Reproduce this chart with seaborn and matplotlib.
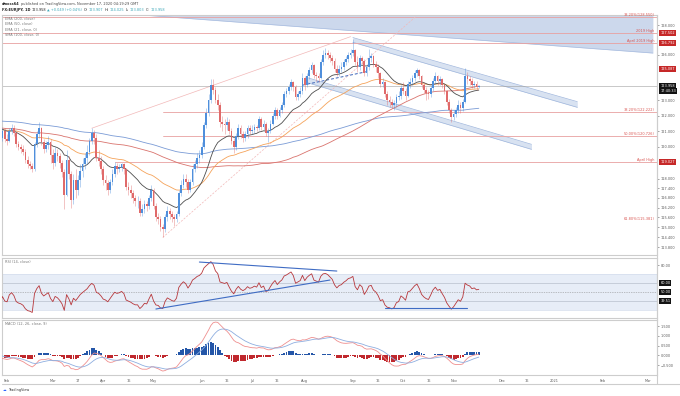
import numpy as np
import pandas as pd
import matplotlib
matplotlib.use("Agg")
import matplotlib.pyplot as plt
import matplotlib.transforms as mtransforms
from matplotlib.lines import Line2D
from matplotlib.ticker import FixedLocator, FuncFormatter, NullLocator
import seaborn as sns

# EUR/JPY daily closes Dec 2 2019 - Jan 28 2020, only used to warm up the indicators
warmup_close = [
    120.6, 120.1, 120.4, 120.5, 120.1, 120.0, 120.3, 120.9, 121.5, 121.3, 122.0,
    122.0, 121.7, 121.7, 121.2, 121.3, 121.5, 121.4, 121.3, 122.0, 122.1, 121.8,
    121.8, 121.6, 120.9, 121.5, 120.8, 120.9, 121.0, 121.2, 121.5, 121.5, 121.6,
    122.1, 122.0, 122.0, 121.9, 121.5, 121.0, 120.7, 120.0, 120.3,
]
ema200_seed = 121.9

# EUR/JPY daily candles, Jan 29 - Nov 17 2020 (open = previous close)
close = [
    120.6, 121.0, 120.5,
    120.4, 121.0, 121.2, 120.9, 120.2, 120.0, 119.9, 119.7, 119.2, 118.9, 118.8, 118.6, 120.2, 120.8, 121.2, 120.3, 119.9, 120.1, 120.3, 119.5,
    119.0, 119.6, 119.4, 119.0, 118.4, 117.0, 119.2, 118.3, 116.7, 117.9, 117.3, 117.9, 118.5, 118.9, 119.3, 119.7, 120.4, 120.9, 120.6, 119.3, 119.1, 118.6,
    117.9, 117.7, 117.3, 117.8, 118.3, 118.8, 118.6, 118.7, 118.9, 118.6, 117.5, 117.3, 117.1, 116.8, 116.6, 116.6, 115.9, 116.1, 116.4, 116.3, 116.8, 117.3,
    116.3, 115.6, 115.5, 115.0, 114.9, 115.6, 116.0, 115.8, 115.6, 115.5, 115.8, 117.1, 117.6, 118.0, 117.8, 117.3, 117.8, 118.6, 118.9, 119.3, 119.5,
    120.0, 121.4, 122.2, 123.0, 124.0, 123.7, 123.0, 122.7, 121.6, 121.5, 121.4, 121.6, 121.0, 120.4, 120.0, 120.7, 121.2, 120.8, 120.6, 120.8, 121.2, 121.0,
    121.1, 121.3, 121.2, 121.8, 121.3, 121.5, 120.9, 121.0, 121.5, 122.0, 122.4, 122.0, 122.4, 122.7, 123.4, 123.6, 123.9, 124.2, 123.9, 123.2, 123.4, 123.6, 124.5,
    124.0, 124.6, 125.0, 125.3, 124.7, 124.6, 124.5, 125.5, 126.0, 126.1, 126.0, 125.8, 125.6, 125.1, 124.8, 125.1, 125.2, 125.5, 125.7, 126.0, 126.1,
    126.3, 125.5, 125.2, 125.8, 125.6, 124.8, 125.2, 125.8, 125.9, 125.4, 125.2, 124.8, 124.1, 124.2, 123.4, 123.0, 122.9, 122.7, 122.8, 123.2, 123.3, 123.8,
    123.6, 123.3, 124.1, 124.2, 124.5, 124.8, 125.0, 124.6, 124.0, 123.7, 123.5, 123.4, 123.8, 124.3, 124.6, 124.3, 124.4, 124.0, 123.6, 122.9, 122.4, 121.9,
    122.1, 122.4, 122.7, 122.5, 122.9, 124.6, 124.4, 124.3, 124.0, 124.1, 123.9, 123.958,
]
high = [
    120.8, 121.2, 121.2,
    120.8, 121.2, 121.5, 121.4, 121.0, 120.4, 120.2, 120.1, 119.9, 119.4, 119.1, 119.0, 120.3, 121.0, 121.6, 121.3, 120.5, 120.4, 120.7, 120.5,
    119.9, 120.0, 119.9, 119.6, 119.2, 118.6, 119.8, 119.4, 118.5, 118.3, 118.6, 118.2, 118.9, 119.3, 119.6, 120.1, 120.6, 121.2, 121.1, 120.8, 119.8, 119.4,
    118.8, 118.2, 117.9, 118.0, 118.6, 119.03, 119.0, 118.9, 119.0, 119.0, 118.7, 117.8, 117.6, 117.3, 117.0, 116.9, 116.8, 116.4, 116.7, 116.6, 117.0, 117.6,
    117.4, 116.5, 115.9, 115.7, 115.2, 115.8, 116.3, 116.2, 116.0, 115.8, 116.0, 117.3, 117.9, 118.3, 118.3, 118.0, 118.0, 118.9, 119.2, 119.6, 119.8,
    120.3, 121.6, 122.5, 123.4, 124.4, 124.43, 123.9, 123.4, 122.9, 122.0, 121.8, 121.9, 121.8, 121.2, 120.6, 120.9, 121.5, 121.4, 121.0, 121.0, 121.4, 121.4,
    121.4, 121.5, 121.4, 122.0, 121.9, 121.7, 121.6, 121.2, 121.7, 122.2, 122.6, 122.5, 122.6, 122.9, 123.6, 123.8, 124.1, 124.4, 124.3, 124.0, 123.6, 123.9, 124.8,
    124.6, 124.8, 125.2, 125.5, 125.4, 124.9, 124.8, 125.7, 126.3, 126.5, 126.3, 126.2, 126.0, 125.8, 125.3, 125.3, 125.5, 125.7, 125.9, 126.2, 126.4,
    127.07, 126.4, 125.9, 126.0, 125.9, 125.7, 125.4, 126.4, 126.1, 126.0, 125.6, 125.4, 124.9, 124.5, 124.3, 123.6, 123.3, 123.1, 123.0, 123.4, 123.6, 124.0,
    124.2, 123.8, 124.3, 124.5, 124.7, 125.0, 125.13, 125.1, 124.7, 124.2, 123.9, 123.7, 124.0, 124.5, 124.9, 124.7, 124.6, 124.5, 124.1, 123.7, 123.1, 122.5,
    122.4, 122.6, 123.0, 122.9, 123.1, 125.13, 124.9, 124.6, 124.5, 124.3, 124.3, 124.025,
]
low = [
    120.1, 120.4, 120.3,
    120.1, 120.3, 120.8, 120.7, 120.0, 119.8, 119.6, 119.5, 119.0, 118.7, 118.6, 118.4, 118.5, 120.0, 120.6, 120.1, 119.6, 119.7, 119.9, 119.0,
    118.6, 118.8, 119.1, 118.7, 118.1, 116.1, 116.9, 118.0, 116.2, 116.4, 116.8, 117.0, 117.5, 118.1, 118.6, 118.9, 119.5, 120.2, 120.2, 119.1, 118.8, 118.3,
    117.6, 117.3, 117.0, 117.1, 117.6, 118.1, 118.3, 118.4, 118.5, 118.3, 117.3, 117.0, 116.8, 116.5, 116.3, 116.2, 115.7, 115.7, 115.9, 116.0, 116.1, 116.6,
    116.1, 115.4, 115.2, 114.8, 114.38, 114.7, 115.4, 115.5, 115.3, 115.1, 115.3, 115.7, 116.9, 117.4, 117.5, 117.1, 117.2, 117.6, 118.4, 118.7, 119.0,
    119.3, 119.9, 121.2, 122.0, 122.8, 123.4, 122.8, 122.4, 121.3, 121.0, 120.8, 121.1, 120.8, 120.2, 119.6, 119.8, 120.5, 120.6, 120.3, 120.4, 120.6, 120.8,
    120.8, 120.9, 121.0, 121.1, 121.1, 121.1, 120.7, 120.3, 120.9, 121.4, 121.8, 121.8, 121.9, 122.2, 122.6, 123.2, 123.4, 123.7, 123.6, 123.0, 123.0, 123.2, 123.4,
    123.7, 123.9, 124.4, 124.8, 124.5, 124.3, 124.2, 124.4, 125.3, 125.8, 125.7, 125.5, 125.3, 124.9, 124.6, 124.6, 124.9, 125.0, 125.3, 125.5, 125.8,
    125.9, 125.3, 124.9, 125.0, 125.4, 124.6, 124.6, 125.0, 125.5, 125.2, 124.9, 124.5, 123.9, 123.9, 123.2, 122.7, 122.6, 122.5, 122.4, 122.6, 123.0, 123.1,
    123.4, 123.0, 123.2, 123.8, 124.0, 124.3, 124.6, 124.4, 123.8, 123.5, 123.0, 123.1, 123.2, 123.6, 124.1, 124.0, 124.0, 123.8, 123.4, 122.7, 122.2, 121.6,
    121.7, 121.9, 122.2, 122.2, 122.3, 122.8, 124.1, 124.0, 123.8, 123.8, 123.7, 123.803,
]

# horizontal levels drawn on the price pane
level_price = [128.55, 127.502, 126.792, 122.222, 120.726, 119.027]
level_text = ["38.20%(128.550)", "2019 High", "April 2019 High",
              "38.20%(122.222)", "50.00%(120.726)", "April High"]
level_start = [None, None, None, "2020-05-07", "2020-05-07", "2020-04-08"]
fib_note_price = 115.381
fib_note_text = "61.80%(115.381)"

# right scale badges
red_badges = [127.502, 126.792, 125.087, 119.027]
last_price = 123.958
countdown = "17:40:33"

# drawings (date, price)
wedge_dates = ["2020-04-16", "2021-03-03"]
wedge_low = [128.77, 126.13]
chan_up_dates = ["2020-09-01", "2021-01-15"]
chan_up_top = [127.17, 122.92]
chan_up_bot = [126.85, 122.55]
chan_lo_dates = ["2020-08-04", "2020-12-18"]
chan_lo_top = [124.50, 120.17]
chan_lo_bot = [124.17, 119.85]
neck_dates = ["2020-07-31", "2020-09-09"]
neck_price = [124.0, 124.89]
fan_a_dates = ["2020-03-25", "2020-08-31"]
fan_a_price = [121.2, 127.23]
fan_b_dates = ["2020-05-07", "2020-10-12"]
fan_b_price = [114.38, 128.8]

# RSI drawings (date, rsi)
rsi_top_dates = ["2020-05-29", "2020-08-21"]
rsi_top_vals = [83.3, 73.3]
rsi_rise_dates = ["2020-05-04", "2020-08-18"]
rsi_rise_vals = [31.1, 63.3]
rsi_flat_dates = ["2020-09-21", "2020-11-10"]
rsi_flat_vals = [32.2, 32.2]
rsi_badges = [(60.0, "60.00"), (50.0, "50.00"), (39.51, "39.51")]

price_ticks = [128, 126, 123, 122, 121, 120, 118, 117.4, 116.8, 116.2, 115.6, 115.0, 114.4, 113.8]
macd_ticks = [1.5, 1.0, 0.5, 0.0, -0.5]
date_ticks = ["2020-02-03", "2020-03-02", "2020-03-17", "2020-04-01", "2020-04-16", "2020-05-01",
              "2020-06-01", "2020-06-16", "2020-07-01", "2020-07-16", "2020-08-03", "2020-09-01",
              "2020-09-16", "2020-10-01", "2020-10-16", "2020-11-02", "2020-12-01", "2020-12-16",
              "2021-01-01", "2021-02-01", "2021-03-01"]
date_labels = ["Feb", "Mar", "17", "Apr", "16", "May", "Jun", "16", "Jul", "16", "Aug", "Sep",
               "16", "Oct", "16", "Nov", "Dec", "16", "2021", "Feb", "Mar"]

sns.set_theme(style="white")
plt.rcParams["font.family"] = ["DejaVu Sans"]

W, H = 680, 396
FS = 2.5
GRAY = "#5a5a5a"
UP, DOWN = "#4f8fdc", "#e06a6a"


def box(x0, y0, x1, y1):
    return [x0 / W, 1 - y1 / H, (x1 - x0) / W, (y1 - y0) / H]


cal = pd.bdate_range("2019-12-02", "2021-03-31")
origin = cal.get_loc(pd.Timestamp("2020-02-03"))


def pos(d):
    return cal.get_loc(pd.Timestamp(d)) - origin


def posl(ds):
    return [pos(d) for d in ds]


dates = pd.bdate_range("2019-12-02", "2020-11-17")
allc = pd.Series(warmup_close + close, index=dates)
assert len(allc) == len(dates) and len(high) == len(close) == len(low)
xs_all = np.array([pos(d) for d in dates])
nw = len(warmup_close)
xs = xs_all[nw:]

# indicators
seeded = pd.Series([ema200_seed] + warmup_close + close)
ema200 = seeded.ewm(span=200, adjust=False).mean().values[1:]
ema50 = allc.ewm(span=50, adjust=False).mean().values
ema21 = allc.ewm(span=21, adjust=False).mean().values
sma100 = allc.rolling(100, min_periods=1).mean().values

d = allc.diff()
gain = d.clip(lower=0).ewm(alpha=1 / 14, adjust=False).mean()
loss = (-d.clip(upper=0)).ewm(alpha=1 / 14, adjust=False).mean()
rsi = (100 - 100 / (1 + gain / loss)).values

macd = (allc.ewm(span=12, adjust=False).mean() - allc.ewm(span=26, adjust=False).mean())
signal = macd.ewm(span=9, adjust=False).mean()
hist = (macd - signal).values
macd, signal = macd.values, signal.values

o = np.array(([warmup_close[-1]] + close)[:-1])
c = np.array(close)
h = np.maximum(np.array(high), np.maximum(o, c))
l = np.minimum(np.array(low), np.minimum(o, c))

fig = plt.figure(figsize=(W / 100, H / 100), dpi=100)
ax = fig.add_axes(box(2, 15, 657, 255))
ax_r = fig.add_axes(box(2, 258, 657, 318), sharex=ax)
ax_m = fig.add_axes(box(2, 320, 657, 375), sharex=ax)

XL = (-2.2, 283.8)

# ---- price pane
ax.set_yscale("log")
x0, x1 = posl(wedge_dates)
ax.fill_between([x0, x1], wedge_low, [131, 131], color="#c7d4ea", alpha=0.9, lw=0, zorder=0)
ax.plot([x0, x1], wedge_low, color="#a9bde0", lw=0.5, zorder=0)

for dd, top, bot in [(chan_up_dates, chan_up_top, chan_up_bot), (chan_lo_dates, chan_lo_top, chan_lo_bot)]:
    px = posl(dd)
    ax.fill_between(px, bot, top, color="#cfdbee", alpha=0.8, lw=0, zorder=1)
    ax.plot(px, top, color="#9fb6dc", lw=0.5, zorder=1)
    ax.plot(px, bot, color="#9fb6dc", lw=0.5, zorder=1)

for p, t, s in zip(level_price, level_text, level_start):
    xa = XL[0] if s is None else pos(s)
    ax.plot([xa, XL[1]], [p, p], color="#e8a0a0", lw=0.6, zorder=1)
    ax.text(0.996, p, t, transform=mtransforms.blended_transform_factory(ax.transAxes, ax.transData),
            ha="right", va="bottom", fontsize=FS, color="#d9534f")
ax.text(0.996, fib_note_price, fib_note_text,
        transform=mtransforms.blended_transform_factory(ax.transAxes, ax.transData),
        ha="right", va="bottom", fontsize=FS, color="#d9534f")

ax.plot(posl(fan_a_dates), fan_a_price, color="#f2b8b8", lw=0.5, zorder=1)
ax.plot(posl(fan_b_dates), fan_b_price, color="#f2b8b8", lw=0.5, ls=(0, (3, 2)), zorder=1)
ax.plot(posl(neck_dates), neck_price, color="#3b63b8", lw=0.7, ls=(0, (3, 2)), zorder=3)
ax.axhline(last_price, color="#9e9e9e", lw=0.4, zorder=1)

for ma, col in [(ema200, "#7a9bd6"), (sma100, "#d9736d"), (ema50, "#f5a35a"), (ema21, "#4d4d4d")]:
    sns.lineplot(x=xs_all[nw:], y=ma[nw:], ax=ax, color=col, lw=0.6, legend=False, zorder=4)

up = c >= o
cols = np.where(up, UP, DOWN)
ax.vlines(xs, l, h, colors=cols, lw=0.4, alpha=0.7, zorder=5)
ax.bar(xs, np.maximum(np.abs(c - o), 0.04), bottom=np.minimum(o, c), width=0.75,
       color=cols, lw=0, zorder=6)

ax.set_ylim(113.32, 128.70)
ax.yaxis.set_major_locator(FixedLocator(price_ticks))
ax.yaxis.set_minor_locator(NullLocator())
ax.yaxis.set_major_formatter(FuncFormatter(lambda v, _: f"{v:.3f}"))
for i, t in enumerate(["EMA (200, close)", "EMA (50, close)", "EMA (21, close, 0)", "SMA (100, close, 0)"]):
    ax.text(0.005, 0.983 - i * 0.0225, t, transform=ax.transAxes, fontsize=FS, color="#777", va="center")

trp = mtransforms.blended_transform_factory(ax.transAxes, ax.transData)
for p in red_badges:
    ax.text(1.005, p, f"{p:.3f}", transform=trp, fontsize=FS, color="white", va="center", ha="left",
            bbox=dict(boxstyle="square,pad=0.3", fc="#c62828", ec="none"), clip_on=False, zorder=20)
ax.text(1.005, last_price, f"{last_price:.3f}", transform=trp, fontsize=FS, color="white",
        va="center", ha="left", bbox=dict(boxstyle="square,pad=0.3", fc="#131313", ec="none"),
        clip_on=False, zorder=20)
ax.text(1.005, last_price, countdown, fontsize=FS, color="white", va="center", ha="left",
        transform=mtransforms.offset_copy(trp, fig=fig, y=-4.8, units="dots"),
        bbox=dict(boxstyle="square,pad=0.3", fc="#131313", ec="none"), clip_on=False, zorder=20)

# ---- RSI pane
vis = slice(nw, None)
ax_r.axhspan(30, 70, color="#e7edf7", lw=0, zorder=0)
for v in (70, 30):
    ax_r.axhline(v, color="#d3dcec", lw=0.5, zorder=1)
for v in (60, 39.51):
    ax_r.axhline(v, color="#b9c0cc", lw=0.5, zorder=1)
ax_r.axhline(50, color="#8a8a8a", lw=0.5, ls=(0, (1, 1.5)), zorder=1)
sns.lineplot(x=xs_all[vis], y=rsi[vis], ax=ax_r, color="#b7373b", lw=0.6, legend=False, zorder=3)
for dd, vv in [(rsi_top_dates, rsi_top_vals), (rsi_rise_dates, rsi_rise_vals), (rsi_flat_dates, rsi_flat_vals)]:
    ax_r.plot(posl(dd), vv, color="#3f6cc4", lw=0.8, zorder=4)
ax_r.set_ylim(21.1, 87.8)
ax_r.yaxis.set_major_locator(FixedLocator([80]))
ax_r.yaxis.set_major_formatter(FuncFormatter(lambda v, _: f"{v:.2f}"))
ax_r.text(0.005, 0.93, "RSI (14, close)", transform=ax_r.transAxes, fontsize=FS, color="#777", va="center")
trr = mtransforms.blended_transform_factory(ax_r.transAxes, ax_r.transData)
for v, t in rsi_badges:
    ax_r.text(1.005, v, t, transform=trr, fontsize=FS, color="white", va="center", ha="left",
              bbox=dict(boxstyle="square,pad=0.3", fc="#131313", ec="none"), clip_on=False, zorder=20)

# ---- MACD pane
hv = hist[vis]
ax_m.bar(xs_all[vis], hv, width=0.8, color=np.where(hv >= 0, "#2456a8", "#c0282d"), lw=0, zorder=2)
sns.lineplot(x=xs_all[vis], y=macd[vis], ax=ax_m, color="#ef8f8f", lw=0.6, legend=False, zorder=3)
sns.lineplot(x=xs_all[vis], y=signal[vis], ax=ax_m, color="#8eaee0", lw=0.6, legend=False, zorder=3)
ax_m.set_ylim(-1.01, 1.81)
ax_m.yaxis.set_major_locator(FixedLocator(macd_ticks))
ax_m.yaxis.set_major_formatter(FuncFormatter(lambda v, _: f"{v:.3f}".replace("-", "\u2212")))
ax_m.text(0.005, 0.93, "MACD (12, 26, close, 9)", transform=ax_m.transAxes, fontsize=FS, color="#777", va="center")

ax_m.set_xticks(posl(date_ticks))
ax_m.set_xticklabels(date_labels)

for a in (ax, ax_r, ax_m):
    a.set_xlim(*XL)
    a.yaxis.tick_right()
    a.set_ylabel("")
    a.set_xlabel("")
    a.tick_params(axis="y", which="both", length=1.5, width=0.4, pad=1, labelsize=FS, colors=GRAY)
    a.tick_params(axis="x", length=1.5, width=0.4, pad=1.5, labelsize=FS, colors=GRAY)
    for sp in a.spines.values():
        sp.set_color("#cdcdcd")
        sp.set_linewidth(0.8)
    a.patch.set_alpha(0)
for a in (ax, ax_r):
    a.tick_params(axis="x", bottom=False, labelbottom=False)

# frame lines, header, logo
fig.add_artist(Line2D([2 / W, 680 / W], [1 - 384 / H] * 2, color="#cdcdcd", lw=0.8))
fig.add_artist(Line2D([657 / W, 657 / W], [1 - 384 / H, 1 - 15 / H], color="#cdcdcd", lw=0.8))

renderer = fig.canvas.get_renderer()


def chain_text(x, y, parts):
    for txt, col, wt in parts:
        t = fig.text(x, y, txt, fontsize=FS, color=col, fontweight=wt, va="center", ha="left")
        x += t.get_window_extent(renderer=renderer).width / W + 1.2 / W


chain_text(2 / W, 1 - 4 / H, [("dmoss64", "#222", "bold"),
                              ("published on TradingView.com, November 17, 2020 04:19:29 GMT", "#444", "normal")])
TEAL = "#3ba7b8"
chain_text(2 / W, 1 - 10 / H, [("FX:EURJPY, 1D", "#222", "bold"), ("123.958", "#222", "normal"),
                               ("\u25b2 +0.049 (+0.04%)", TEAL, "normal"), ("O:", "#222", "normal"),
                               ("123.907", TEAL, "normal"), ("H:", "#222", "normal"),
                               ("124.025", TEAL, "normal"), ("L:", "#222", "normal"),
                               ("123.803", TEAL, "normal"), ("C:", "#222", "normal"),
                               ("123.958", TEAL, "normal")])
chain_text(3 / W, 1 - 390 / H, [("\u2601", "#2962ff", "normal"), ("TradingView", "#333", "normal")])

fig.savefig("out.png", dpi=100)
